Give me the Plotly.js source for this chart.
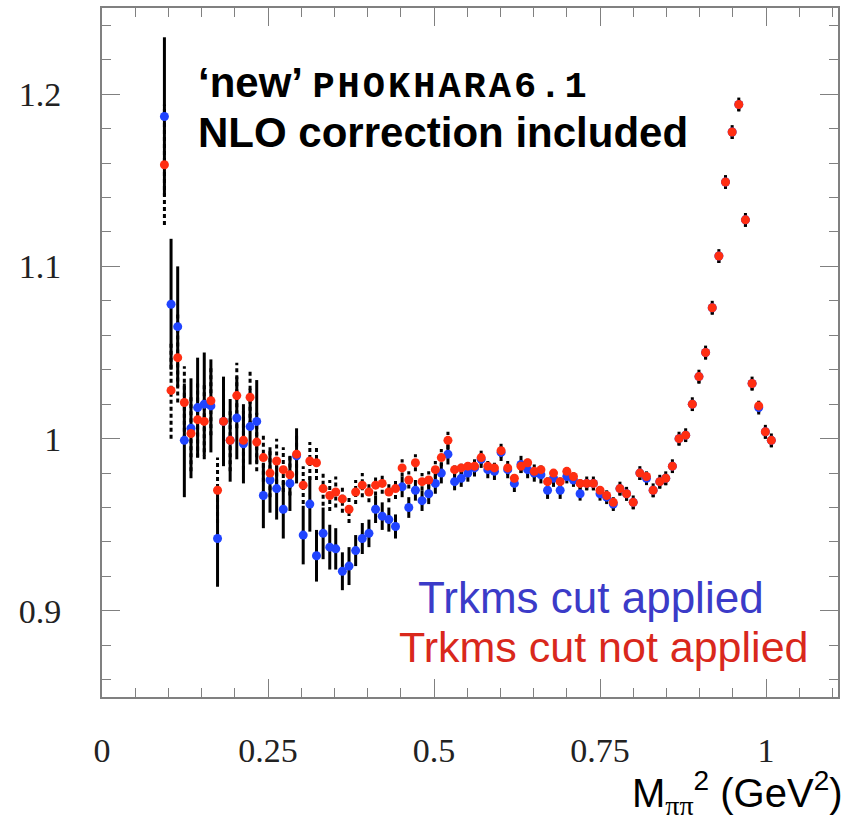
<!DOCTYPE html>
<html>
<head>
<meta charset="utf-8">
<script src="https://cdn.plot.ly/plotly-3.0.1.min.js"></script>
<style>html,body{margin:0;padding:0;background:#fff;}</style>
</head>
<body>
<div id="chart" style="width:858px;height:823px;"></div>
<script>
// M_pipi^2 bin centres (GeV^2)
const mass2 = [0.094,0.104,0.114,0.124,0.134,0.144,0.154,0.164,0.174,0.183,
  0.193,0.203,0.213,0.223,0.233,0.243,0.253,0.263,0.273,0.283,
  0.293,0.303,0.313,0.323,0.333,0.343,0.352,0.362,0.372,0.382,
  0.392,0.402,0.412,0.422,0.432,0.442,0.452,0.462,0.472,0.482,
  0.492,0.502,0.511,0.521,0.531,0.541,0.551,0.561,0.571,0.581,
  0.591,0.601,0.611,0.621,0.631,0.641,0.651,0.661,0.671,0.680,
  0.690,0.700,0.710,0.720,0.730,0.740,0.750,0.760,0.770,0.780,
  0.790,0.800,0.810,0.820,0.830,0.840,0.849,0.859,0.869,0.879,
  0.889,0.899,0.909,0.919,0.929,0.939,0.949,0.959,0.969,0.979,
  0.989,0.999,1.008];

// Trkms cut applied (blue)
const ratioCut = [1.187,1.078,1.065,0.999,1.006,1.018,1.020,1.019,0.942,1.010,
  0.999,1.012,0.997,1.007,1.010,0.967,0.976,0.971,0.959,0.974,
  0.990,0.944,0.962,0.932,0.945,0.937,0.936,0.923,0.926,0.935,
  0.942,0.945,0.959,0.955,0.953,0.949,0.972,0.960,0.970,0.964,
  0.968,0.974,0.980,0.991,0.975,0.977,0.980,0.983,0.988,0.982,
  0.981,0.992,0.982,0.974,0.985,0.982,0.980,0.979,0.970,0.977,
  0.970,0.978,0.976,0.968,0.974,0.974,0.968,0.966,0.962,0.971,
  0.968,0.963,0.980,0.977,0.970,0.975,0.977,0.984,1.000,1.002,
  1.020,1.036,1.050,1.076,1.106,1.149,1.178,1.194,1.127,1.032,
  1.018,1.004,0.999];
const errCut = [0.046,0.038,0.035,0.033,0.029,0.029,0.030,0.027,0.028,0.026,
  0.024,0.024,0.023,0.022,0.024,0.019,0.019,0.018,0.017,0.016,
  0.016,0.017,0.016,0.015,0.015,0.013,0.012,0.011,0.011,0.009,
  0.009,0.008,0.008,0.008,0.007,0.007,0.006,0.006,0.006,0.006,
  0.006,0.006,0.006,0.006,0.005,0.005,0.005,0.005,0.005,0.005,
  0.005,0.005,0.005,0.005,0.005,0.005,0.005,0.005,0.005,0.005,
  0.005,0.004,0.004,0.004,0.004,0.004,0.004,0.004,0.004,0.004,
  0.004,0.004,0.004,0.004,0.004,0.004,0.004,0.004,0.004,0.004,
  0.004,0.004,0.004,0.004,0.004,0.004,0.004,0.004,0.004,0.004,
  0.004,0.004,0.004];

// Trkms cut not applied (red)
const ratioNoCut = [1.159,1.028,1.047,1.021,1.003,1.011,1.010,1.022,0.970,1.010,
  0.999,1.025,0.999,1.024,0.998,0.989,0.980,0.987,0.982,0.979,
  0.991,0.973,0.987,0.986,0.971,0.967,0.969,0.965,0.959,0.969,
  0.973,0.969,0.973,0.974,0.969,0.971,0.983,0.976,0.986,0.975,
  0.976,0.982,0.989,0.999,0.982,0.983,0.984,0.984,0.989,0.984,
  0.983,0.993,0.983,0.977,0.984,0.986,0.981,0.982,0.975,0.980,
  0.975,0.981,0.978,0.974,0.974,0.974,0.970,0.967,0.963,0.971,
  0.968,0.963,0.980,0.978,0.970,0.975,0.977,0.984,1.000,1.002,
  1.020,1.036,1.050,1.076,1.106,1.149,1.178,1.194,1.127,1.032,
  1.019,1.004,0.999];
const errNoCut = [0.035,0.028,0.026,0.021,0.022,0.022,0.022,0.020,0.019,0.019,
  0.018,0.019,0.017,0.016,0.017,0.014,0.014,0.013,0.013,0.012,
  0.012,0.011,0.011,0.010,0.010,0.009,0.009,0.008,0.008,0.007,
  0.007,0.006,0.006,0.006,0.006,0.006,0.005,0.005,0.005,0.005,
  0.005,0.005,0.005,0.005,0.004,0.004,0.004,0.004,0.004,0.004,
  0.004,0.004,0.004,0.004,0.004,0.004,0.004,0.004,0.004,0.004,
  0.004,0.004,0.004,0.004,0.004,0.004,0.004,0.004,0.004,0.004,
  0.004,0.004,0.004,0.004,0.004,0.004,0.004,0.004,0.004,0.004,
  0.004,0.004,0.004,0.004,0.004,0.004,0.004,0.004,0.004,0.004,
  0.004,0.004,0.004];

const xTickVals = [0, 0.25, 0.5, 0.75, 1];
const xTickText = ['0', '0.25', '0.5', '0.75', '1'];
const yTickVals = [0.9, 1, 1.1, 1.2];
const yTickText = ['0.9', '1', '1.1', '1.2'];

// dashed error bars for the red series, built from the data arrays
const ebX = [], ebY = [];
for (let i = 0; i < mass2.length; i++) {
  ebX.push(mass2[i], mass2[i], null);
  ebY.push(ratioNoCut[i] - errNoCut[i], ratioNoCut[i] + errNoCut[i], null);
}

const traces = [
  {x: ebX, y: ebY, type: 'scatter', mode: 'lines', hoverinfo: 'skip',
   line: {color: '#000', width: 3, dash: '4px,3px'}, showlegend: false},
  {x: mass2, y: ratioCut, type: 'scatter', mode: 'markers', name: 'Trkms cut applied',
   marker: {color: '#2044ff', size: 9, line: {width: 0}},
   error_y: {type: 'data', array: errCut, visible: true, color: '#000', thickness: 3, width: 0},
   showlegend: false},
  {x: mass2, y: ratioNoCut, type: 'scatter', mode: 'markers', name: 'Trkms cut not applied',
   marker: {color: '#ff2e12', size: 9, line: {width: 0}},
   showlegend: false}
];

const tickFont = {family: '"Liberation Serif", "Times New Roman", serif', size: 34, color: '#222'};
const axisCommon = {
  showline: true, linecolor: '#808080', linewidth: 2, mirror: 'ticks',
  ticks: 'inside', ticklen: 18, tickwidth: 1, tickcolor: '#808080',
  showgrid: false, zeroline: false, tickfont: tickFont
};

const layout = {
  width: 858, height: 823,
  margin: {l: 102, r: 20, t: 8, b: 126, pad: 0},
  paper_bgcolor: '#fff', plot_bgcolor: '#fff',
  xaxis: Object.assign({}, axisCommon, {
    range: [0, 1.1084], tickmode: 'array', tickvals: xTickVals, ticktext: xTickText,
    ticklabelstandoff: 22,
    minor: {dtick: 0.05, ticks: 'inside', ticklen: 9, tickcolor: '#808080', tickwidth: 1, showgrid: false}
  }),
  yaxis: Object.assign({}, axisCommon, {
    range: [0.85, 1.25], tickmode: 'array', tickvals: yTickVals, ticktext: yTickText,
    ticklabelstandoff: 32,
    minor: {dtick: 0.02, ticks: 'inside', ticklen: 9, tickcolor: '#808080', tickwidth: 1, showgrid: false}
  }),
  annotations: [
    {xref: 'paper', yref: 'paper', x: 0.128, y: 0.890, xanchor: 'left', yanchor: 'middle', showarrow: false,
     text: "<b>‘new’ <span style=\"font-family:'Liberation Mono','Courier New',monospace;font-size:37px;letter-spacing:3px\">PHOKHARA6.1</span></b>",
     font: {family: 'Liberation Sans, Arial, sans-serif', size: 42, color: '#000'}},
    {xref: 'paper', yref: 'paper', x: 0.128, y: 0.819, xanchor: 'left', yanchor: 'middle', showarrow: false,
     text: '<b>NLO correction included</b>',
     font: {family: 'Liberation Sans, Arial, sans-serif', size: 42, color: '#000'}},
    {xref: 'paper', yref: 'paper', x: 0.664, y: 0.145, xanchor: 'center', yanchor: 'middle', showarrow: false,
     text: 'Trkms cut applied',
     font: {family: 'Liberation Sans, Arial, sans-serif', size: 44, color: '#3b3bc8'}},
    {xref: 'paper', yref: 'paper', x: 0.682, y: 0.073, xanchor: 'center', yanchor: 'middle', showarrow: false,
     text: 'Trkms cut not applied',
     font: {family: 'Liberation Sans, Arial, sans-serif', size: 43, color: '#d9281c'}},
    {xref: 'paper', yref: 'paper', x: 1.0095, y: -0.140, xanchor: 'right', yanchor: 'middle', showarrow: false,
     text: "M<sub><span style=\"font-family:'Liberation Serif',serif\">ππ</span></sub><sup>2</sup> (GeV<sup>2</sup>)",
     font: {family: 'Liberation Sans, Arial, sans-serif', size: 40, color: '#000'}}
  ]
};

Plotly.newPlot('chart', traces, layout, {displayModeBar: false, staticPlot: true});
</script>
</body>
</html>
